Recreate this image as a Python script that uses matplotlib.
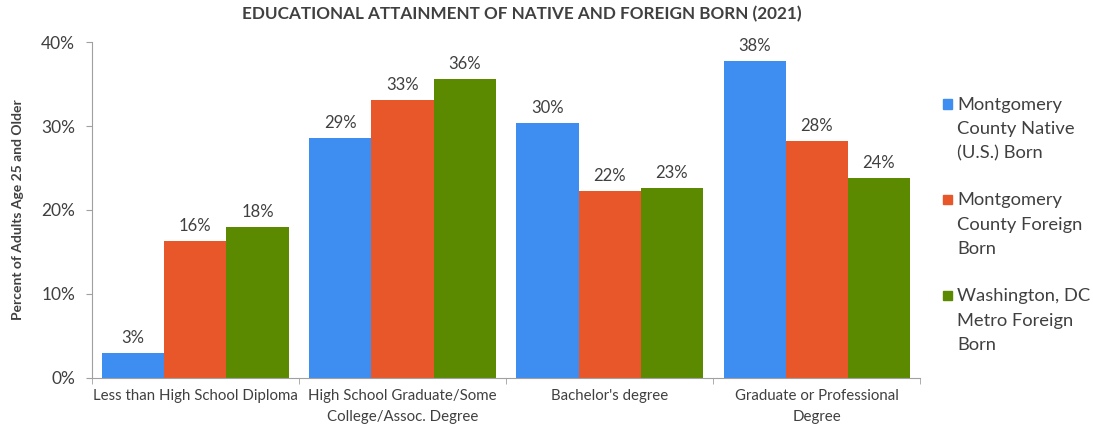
import matplotlib
matplotlib.use("Agg")
from matplotlib import pyplot as plt
from matplotlib.patches import Rectangle
import numpy as np

plt.rcParams['font.family'] = ['Lato', 'DejaVu Sans']

# data
categories = ["Less than High School Diploma",
              "High School Graduate/Some\nCollege/Assoc. Degree",
              "Bachelor's degree",
              "Graduate or Professional\nDegree"]
series_names = ["Montgomery\nCounty Native\n(U.S.) Born",
                "Montgomery\nCounty Foreign\nBorn",
                "Washington, DC\nMetro Foreign\nBorn"]
native = [3.0, 28.6, 30.4, 37.8]
mc_foreign = [16.3, 33.1, 22.3, 28.2]
dc_foreign = [18.0, 35.6, 22.6, 23.8]
colors = ["#3d8ef0", "#e8572a", "#5b8a00"]

fig = plt.figure(figsize=(10.93, 4.29), dpi=100)
ax = fig.add_axes([0.084, 0.119, 0.758, 0.783])

x = np.arange(len(categories))
w = 0.3
for i, vals in enumerate([native, mc_foreign, dc_foreign]):
    pos = x + (i - 1) * w
    ax.bar(pos, vals, width=w, color=colors[i], label=series_names[i])
    for px, v in zip(pos, vals):
        ax.text(px, v + 0.8, "%d%%" % round(v), ha="center", va="bottom",
                fontsize=12, color="#404040")

ax.set_xlim(-0.5, len(categories) - 0.5)
ax.set_ylim(0, 40)
ax.set_yticks([0, 10, 20, 30, 40])
ax.set_yticklabels(["0%", "10%", "20%", "30%", "40%"], fontsize=12.5, color="#404040")
ax.set_xticks(x)
ax.set_xticklabels(categories, fontsize=10.8, color="#404040")
for lbl in ax.get_xticklabels():
    lbl.set_linespacing(1.65)
ax.set_xticks(np.arange(-0.5, len(categories)), minor=True)
ax.tick_params(axis="x", which="major", length=0, pad=8)
ax.tick_params(axis="x", which="minor", length=4, color="#a0a0a0")
ax.tick_params(axis="y", length=4, color="#a0a0a0", pad=8)
for s in ["top", "right"]:
    ax.spines[s].set_visible(False)
for s in ["left", "bottom"]:
    ax.spines[s].set_color("#a0a0a0")

ax.set_ylabel("Percent of Adults Age 25 and Older", fontsize=10,
              fontweight="bold", color="#404040", labelpad=12)
fig.suptitle("EDUCATIONAL ATTAINMENT OF NATIVE AND FOREIGN BORN (2021)",
             x=0.477, y=0.985, fontsize=12.3, fontweight="bold", color="#404040")

# legend drawn by hand so the square sits on the first text line
for i, name in enumerate(series_names):
    ytop = 0.775 - i * 0.2235
    fig.add_artist(Rectangle((0.8625, ytop - 0.028), 0.0085, 0.0215,
                             transform=fig.transFigure, color=colors[i]))
    fig.text(0.876, ytop, name, ha="left", va="top", fontsize=13.2,
             color="#404040", linespacing=1.65)

fig.savefig("out.png", dpi=100)
